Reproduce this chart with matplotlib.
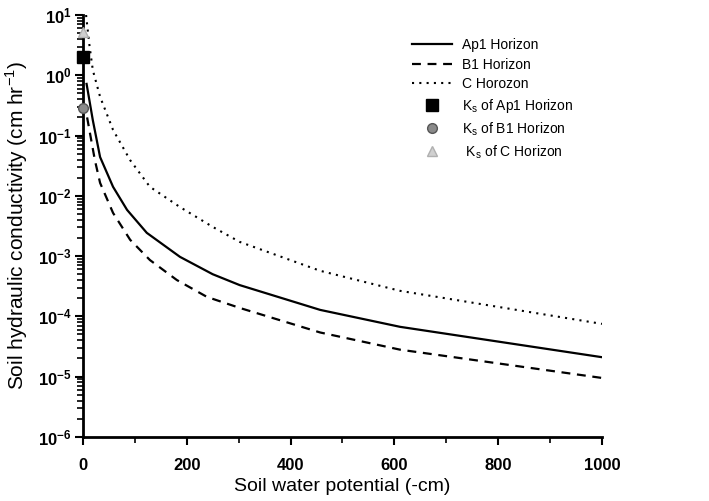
import numpy as np
import matplotlib
matplotlib.use('Agg')
import matplotlib.pyplot as plt
from matplotlib.ticker import FuncFormatter, LogLocator, MultipleLocator, NullFormatter

plt.rcParams['font.family'] = ['Liberation Sans', 'DejaVu Sans']
plt.rcParams['mathtext.fontset'] = 'custom'
plt.rcParams['mathtext.rm'] = 'Liberation Sans'
plt.rcParams['mathtext.bf'] = 'Liberation Sans:bold'

# values (x in -cm, K in cm/hr)
ap1_x = [7, 19, 33, 58, 85, 123, 187, 250, 302, 457, 611, 1000]
ap1_k = [0.72, 0.18, 0.044, 0.0141, 0.00584, 0.00243, 9.7e-4, 5.0e-4,
         3.3e-4, 1.28e-4, 6.7e-5, 2.1e-5]

b1_x = [8, 23, 33, 58, 91, 129, 181, 239, 302, 457, 611, 1000]
b1_k = [0.20, 0.039, 0.0164, 0.0052, 0.00186, 8.6e-4, 4.0e-4, 2.1e-4,
        1.38e-4, 5.4e-5, 2.8e-5, 9.5e-6]

c_x = [6, 12, 19, 33, 58, 91, 129, 187, 250, 302, 457, 611, 1000]
c_k = [10, 3.4, 1.22, 0.44, 0.124, 0.039, 0.0141, 0.0065, 0.00305, 0.00172,
       5.7e-4, 2.65e-4, 7.5e-5]

ks_x = 0
ks_ap1 = 2.0
ks_b1 = 0.29
ks_c = 5.2

fig = plt.figure(figsize=(7.09, 5.01), dpi=100)
ax = fig.add_axes([0.117, 0.128, 0.732, 0.842])

ax.plot(ap1_x, ap1_k, color='black', lw=1.6, ls='-', label='Ap1 Horizon')
ax.plot(b1_x, b1_k, color='black', lw=1.6, ls=(0, (4, 3)), label='B1 Horizon')
ax.plot(c_x, c_k, color='black', lw=1.5, ls=(0, (1, 2.5)), label='C Horozon')
ax.plot([ks_x], [ks_ap1], ls='none', marker='s', ms=8, color='black',
        clip_on=False, zorder=5, label=r'K$_\mathrm{s}$ of Ap1 Horizon')
ax.plot([ks_x], [ks_b1], ls='none', marker='o', ms=7, color='#8a8a8a',
        mec='#555555', clip_on=False, zorder=5, label=r'K$_\mathrm{s}$ of B1 Horizon')
ax.plot([ks_x], [ks_c], ls='none', marker='^', ms=7, color='#d0d0d0',
        mec='#b0b0b0', clip_on=False, zorder=5, label=r' K$_\mathrm{s}$ of C Horizon')

ax.set_yscale('log')
ax.set_xlim(0, 1000)
ax.set_ylim(1e-6, 1e1)

ax.spines['top'].set_visible(False)
ax.spines['right'].set_visible(False)
ax.spines['left'].set_linewidth(2)
ax.spines['bottom'].set_linewidth(2)

ax.xaxis.set_major_locator(MultipleLocator(200))
ax.xaxis.set_minor_locator(MultipleLocator(100))
ax.yaxis.set_major_locator(LogLocator(base=10, numticks=20))
ax.yaxis.set_minor_locator(LogLocator(base=10, subs=np.arange(2, 10), numticks=20))
ax.yaxis.set_minor_formatter(NullFormatter())
ax.yaxis.set_major_formatter(FuncFormatter(lambda v, p: r'$\mathbf{10^{%d}}$' % round(np.log10(v))))

ax.tick_params(which='major', direction='out', length=6, width=1.5, labelsize=12)
ax.tick_params(which='minor', direction='out', length=4, width=1.2)
ax.tick_params(axis='x', which='major', pad=9)
ax.tick_params(axis='y', which='major', pad=2)
for t in ax.get_xticklabels():
    t.set_fontweight('bold')

ax.set_xlabel('Soil water potential (-cm)', fontsize=14, labelpad=4)
ax.set_ylabel('Soil hydraulic conductivity (cm hr$^{-1}$)', fontsize=15, labelpad=6)

ax.legend(loc='upper left', bbox_to_anchor=(0.61, 0.975), frameon=False, fontsize=10,
          handlelength=2.9, handletextpad=0.7, labelspacing=0.4)

fig.savefig('out.png', dpi=100)
